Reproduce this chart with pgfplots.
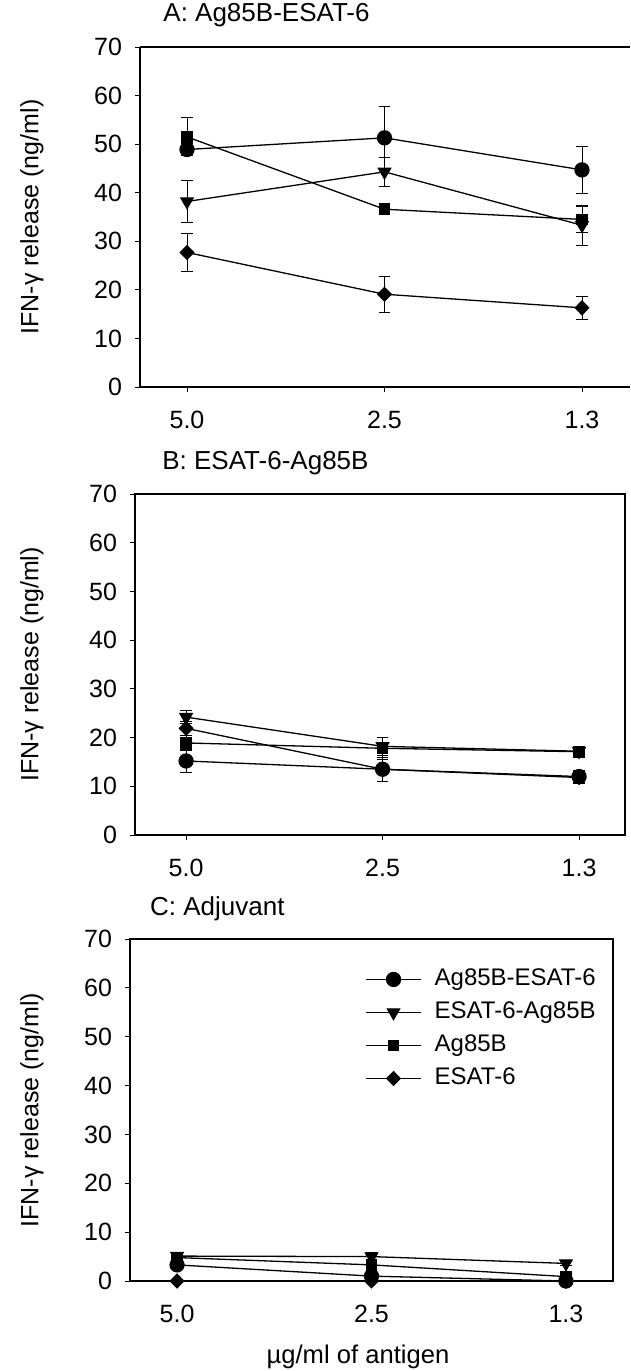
\documentclass[border=0pt]{standalone}
\usepackage{fontspec}
\setmainfont{Liberation Sans}
\usepackage{pgfplots}
\pgfplotsset{compat=1.18}

% one pixel of the reference = 0.5pt
\pgfplotsset{
  panel/.style={
    scale only axis,
    ymin=0, ymax=70,
    ytick={0,10,...,70},
    xtick={0,1,2},
    xticklabels={5.0,2.5,1.3},
    tick align=outside,
    tick pos=left,
    major tick length=2.5pt,
    tick style={black, line width=0.5pt},
    axis line style={black, line width=0.6pt},
    /pgf/number format/assume math mode=true,
    ticklabel style={font=\fontsize{12.5}{14}\selectfont},
    xticklabel style={yshift=-6pt},
    yticklabel style={xshift=-3pt},
    ylabel={IFN-γ release (ng/ml)},
    clip=false,
    every axis plot/.append style={black, line width=0.65pt},
  },
  eb/.style={error bars/.cd, y dir=both, y explicit,
    error bar style={black, line width=0.5pt},
    error mark options={rotate=90, mark size=2.8pt, line width=0.5pt, black}},
  s1/.style={mark=*, mark size=3.5pt, mark options={fill=black, draw=black}},
  s2/.style={mark=triangle*, mark size=3.5pt, mark options={fill=black, draw=black, rotate=180}},
  s3/.style={mark=square*, mark size=2.6pt, mark options={fill=black, draw=black}},
  s4/.style={mark=diamond*, mark size=3.4pt, mark options={fill=black, draw=black, xscale=1.3}},
}

\begin{document}
\begin{tikzpicture}
\useasboundingbox (0,0) rectangle (315.5pt,-685.5pt);

% A
\begin{axis}[panel,
  at={(70pt,-193.5pt)}, anchor=south west,
  width=245pt, height=170pt,
  xmin=-0.238, xmax=2.243,
  axis x line*=bottom, axis y line*=left, axis line style={-},
  every axis y label/.style={at={(axis description cs:-0.2204,0.5)}, rotate=90, anchor=center, font=\fontsize{12.5}{14}\selectfont},
  title={A: Ag85B-ESAT-6},
  title style={at={(axis description cs:0.047,1)}, anchor=base west, yshift=7pt, inner sep=0pt, font=\fontsize{13}{15}\selectfont},
]
\addplot[s1, eb] coordinates {(0,48.9) +- (0,1.3) (1,51.3) +- (0,6.5) (2,44.7) +- (0,4.9)};
\addplot[s2, eb] coordinates {(0,38.2) +- (0,4.3) (1,44.3) +- (0,3.0) (2,33.3) +- (0,4.1)};
\addplot[s3, eb] coordinates {(0,51.5) +- (0,3.9) (1,36.6) +- (0,0.8) (2,34.5) +- (0,2.7)};
\addplot[s4, eb] coordinates {(0,27.7) +- (0,4.0) (1,19.1) +- (0,3.7) (2,16.3) +- (0,2.4)};
\draw[black, line width=0.6pt] (rel axis cs:0,1) -- (rel axis cs:1,1);
\end{axis}

% B
\begin{axis}[panel,
  at={(67.5pt,-417.5pt)}, anchor=south west,
  width=245pt, height=170.5pt,
  xmin=-0.26, xmax=2.234,
  every axis y label/.style={at={(axis description cs:-0.2102,0.5)}, rotate=90, anchor=center, font=\fontsize{12.5}{14}\selectfont},
  title={B: ESAT-6-Ag85B},
  title style={at={(axis description cs:0.055,1)}, anchor=base west, yshift=6.5pt, inner sep=0pt, font=\fontsize{13}{15}\selectfont},
]
\addplot[s1, eb] coordinates {(0,15.2) +- (0,2.4) (1,13.5) +- (0,2.5) (2,12.0) +- (0,1.3)};
\addplot[s2, eb] coordinates {(0,24.2) +- (0,1.4) (1,18.2) +- (0,1.8) (2,17.2) +- (0,0.8)};
\addplot[s3, eb] coordinates {(0,18.9) +- (0,1.5) (1,17.8) +- (0,2.2) (2,17.1) +- (0,0.8)};
\addplot[s4, eb] coordinates {(0,21.9) +- (0,1.5) (1,13.5) +- (0,2.5) (2,11.8) +- (0,1.3)};
\end{axis}

% C
\begin{axis}[panel,
  at={(65pt,-640.5pt)}, anchor=south west,
  width=241.5pt, height=171pt,
  xmin=-0.242, xmax=2.242,
  every axis y label/.style={at={(axis description cs:-0.2029,0.5)}, rotate=90, anchor=center, font=\fontsize{12.5}{14}\selectfont},
  title={C: Adjuvant},
  title style={at={(axis description cs:0.041,1)}, anchor=base west, yshift=6pt, inner sep=0pt, font=\fontsize{13}{15}\selectfont},
  xlabel={µg/ml of antigen},
  every axis x label/.style={at={(axis description cs:0.472,-0.2222)}, anchor=center, font=\fontsize{12.8}{15}\selectfont},
  legend style={at={(axis description cs:0.4865,0.737)}, anchor=west, draw=none, fill=none,
    inner sep=0pt, row sep=3.5pt, font=\fontsize{12}{14}\selectfont,
    nodes={inner sep=1pt, text height=8.5pt, text depth=2.5pt},
    /tikz/every odd column/.append style={column sep=5.5pt}},
  legend cell align=left,
  legend image code/.code={\draw[mark repeat=2, mark phase=2, #1] plot coordinates {(0pt,0pt) (13.75pt,0pt) (27.5pt,0pt)};},
]
\addplot[s1, eb] coordinates {(0,3.3) +- (0,0.5) (1,1.0) +- (0,0.5) (2,0.0) +- (0,0.3)};
\addplot[s2, eb] coordinates {(0,5.1) +- (0,0.5) (1,5.0) +- (0,0.8) (2,3.6) +- (0,0.5)};
\addplot[s3, eb] coordinates {(0,4.8) +- (0,0.6) (1,3.3) +- (0,1.0) (2,0.9) +- (0,0.5)};
\addplot[s4, eb] coordinates {(0,0.0) +- (0,0.2) (1,0.0) +- (0,0.2) (2,0.0) +- (0,0.2)};
\legend{Ag85B-ESAT-6, ESAT-6-Ag85B, Ag85B, ESAT-6}
\end{axis}
\end{tikzpicture}
\end{document}
